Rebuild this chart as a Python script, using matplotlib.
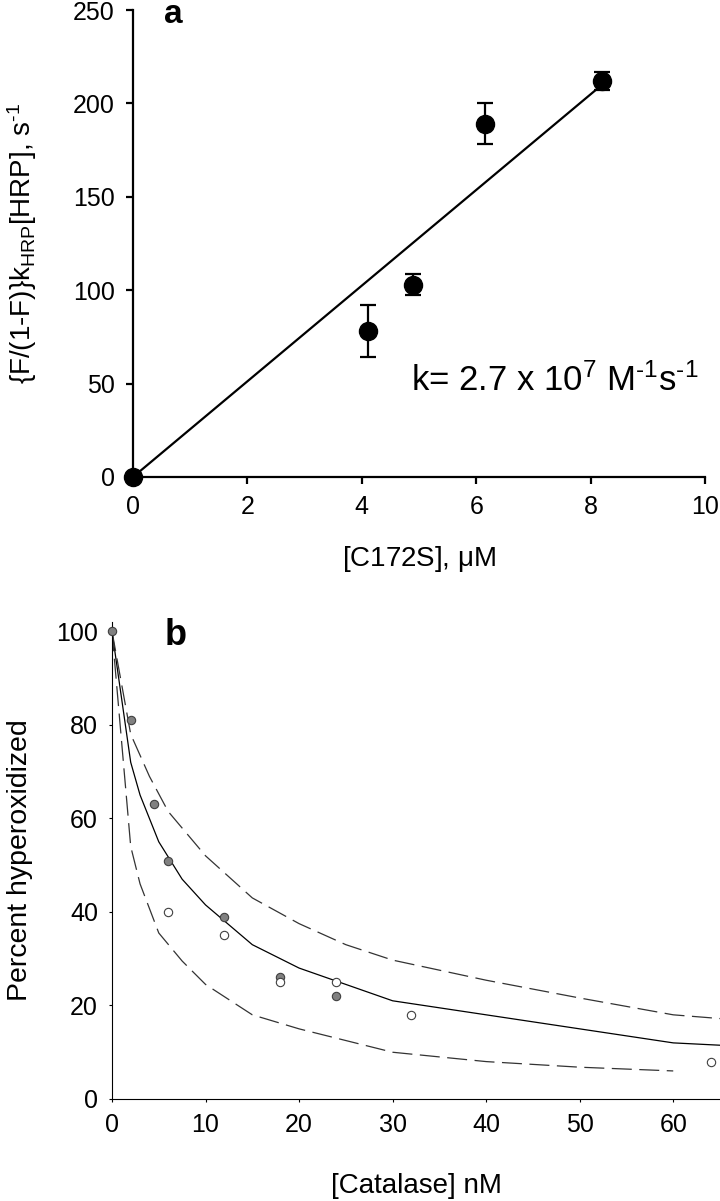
import matplotlib
matplotlib.use("Agg")
import matplotlib.pyplot as plt
import numpy as np

plt.rcParams['font.family'] = ['Liberation Sans', 'DejaVu Sans']
plt.rcParams['mathtext.fontset'] = 'custom'
plt.rcParams['mathtext.rm'] = 'Liberation Sans'
plt.rcParams['mathtext.it'] = 'Liberation Sans'

# ---------------------------------------------------------
# Panel a data
# ---------------------------------------------------------
c172s = [0.0, 4.1, 4.9, 6.15, 8.2]
rate = [0.0, 78, 103, 189, 212]
rate_err = [0, 14, 5.5, 11, 5]
fit_x = [0.0, 8.2]
fit_y = [0.0, 210]

# ---------------------------------------------------------
# Panel b data
# ---------------------------------------------------------
cat_filled = [0, 2, 4.5, 6, 12, 18, 24]
hyp_filled = [100, 81, 63, 51, 39, 26, 22]
cat_open = [6, 12, 18, 24, 32, 64]
hyp_open = [40, 35, 25, 25, 18, 8]

mid_x = [0, 1, 2, 3, 5, 7.5, 10, 15, 20, 25, 30, 40, 50, 60, 65]
mid_y = [100, 86, 72, 65, 55, 47, 41.5, 33, 28, 24.5, 21, 18, 15, 12, 11.5]
up_x = [0, 1, 2, 4, 6, 10, 15, 20, 25, 30, 40, 50, 60, 65]
up_y = [100, 89, 78, 69, 61.5, 52, 43, 37.5, 33, 29.7, 25.4, 21.6, 18, 17.2]
low_x = [0, 1, 2, 3, 5, 7.5, 10, 15, 20, 25, 30, 40, 50, 60]
low_y = [100, 77, 54, 46, 35.5, 29.5, 24.5, 18, 15, 12.5, 10, 8, 6.8, 6]

fig = plt.figure(figsize=(7.2, 12.01), dpi=100)

#%%
# ---------------------------------------------------------
# a) rate vs [C172S]
# ---------------------------------------------------------
ax = fig.add_axes([133/720, 1 - 477/1201, (705-133)/720, (477-10)/1201])

ax.plot(fit_x, fit_y, color='k', lw=1.6, zorder=2)
ax.errorbar(c172s, rate, yerr=rate_err, fmt='o', color='k', ms=13,
            capsize=6, elinewidth=1.6, capthick=1.6, zorder=3, clip_on=False)

ax.set_xlim(0, 10)
ax.set_ylim(0, 250)
ax.set_xticks(range(0, 11, 2))
ax.set_yticks(range(0, 251, 50))
for s in ['top', 'right']:
    ax.spines[s].set_visible(False)
for s in ['left', 'bottom']:
    ax.spines[s].set_linewidth(1.6)
ax.tick_params(direction='out', length=5, width=1.6, labelsize=18, pad=8)

ax.set_xlabel(r'[C172S], $\mu$M', fontsize=20, labelpad=18)
ax.set_ylabel(r'{F/(1-F)}k$_{\mathrm{HRP}}$[HRP], s$^{\text{-1}}$', fontsize=20)
ax.yaxis.set_label_coords((39 - 133) / 572, 0.5)
ax.text(4.86, 46, r'k= 2.7 x 10$^{7}$ M$^{\text{-1}}$s$^{\text{-1}}$', fontsize=25, va='baseline')
ax.text(0.55, 243, 'a', fontsize=24, fontweight='bold', va='baseline')

#%%
# ---------------------------------------------------------
# b) percent hyperoxidized vs [Catalase]
# ---------------------------------------------------------
ax = fig.add_axes([112/720, 1 - 1099/1201, (720-112)/720, (1099-622)/1201])

ax.plot(mid_x, mid_y, color='k', lw=0.9)
ax.plot(up_x, up_y, color='#333333', lw=0.9, dashes=(16, 6))
ax.plot(low_x, low_y, color='#333333', lw=0.9, dashes=(16, 6))
ax.plot(cat_filled, hyp_filled, 'o', ms=6, mfc='#808080', mec='#404040', mew=0.8,
        clip_on=False, zorder=3)
ax.plot(cat_open, hyp_open, 'o', ms=6, mfc='white', mec='#404040', mew=0.8,
        clip_on=False, zorder=3)

ax.set_xlim(0, 65)
ax.set_ylim(0, 102)
ax.set_xticks(range(0, 61, 10))
ax.set_yticks(range(0, 101, 20))
for s in ['top', 'right']:
    ax.spines[s].set_visible(False)
for s in ['left', 'bottom']:
    ax.spines[s].set_linewidth(0.8)
ax.tick_params(direction='out', length=2, width=0.8, labelsize=18, pad=8)

ax.set_xlabel('[Catalase] nM', fontsize=20, labelpad=26)
ax.set_ylabel('Percent hyperoxidized', fontsize=20.5)
ax.yaxis.set_label_coords((33 - 112) / 608, 0.5)
ax.text(5.6, 97, 'b', fontsize=26, fontweight='bold', va='baseline')

fig.savefig('out.png', dpi=100)
